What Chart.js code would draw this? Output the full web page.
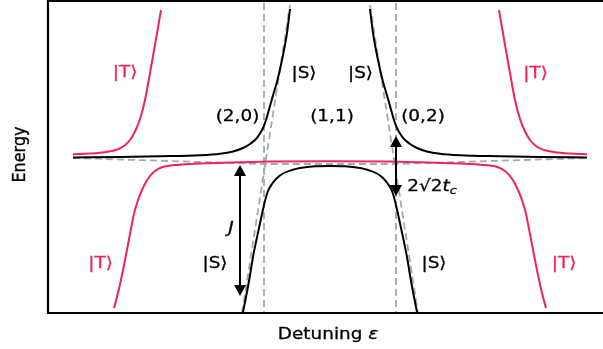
<!DOCTYPE html>
<html>
<head>
<meta charset="utf-8">
<script src="https://cdn.jsdelivr.net/npm/chart.js@4/dist/chart.umd.min.js"></script>
<style>
  html, body { margin: 0; padding: 0; background: #ffffff; }
  #wrap { width: 603px; height: 349px; }
</style>
</head>
<body>
<div id="wrap"><canvas id="c" width="603" height="349"></canvas></div>
<script>
// Energy levels of a double quantum dot versus detuning ε (arbitrary units)
const PINK = '#f0245a';
const GREY = '#9eabb5';
const BLACK = '#000000';

// Triplet branches
const tripletLeftEps  = [-2.57, -2.40, -2.25, -2.15, -2.10, -2.05, -2.00, -1.95, -1.90, -1.85, -1.80, -1.75, -1.69];
const tripletLeftE    = [0.097, 0.104, 0.117, 0.137, 0.156, 0.187, 0.24, 0.325, 0.45, 0.64, 0.91, 1.19, 1.54];
const tripletRightEps = [1.69, 1.75, 1.80, 1.85, 1.90, 1.95, 2.00, 2.05, 2.10, 2.15, 2.25, 2.40, 2.57];
const tripletRightE   = [1.54, 1.19, 0.91, 0.64, 0.45, 0.325, 0.24, 0.187, 0.156, 0.137, 0.117, 0.104, 0.097];
const tripletLowEps   = [-2.16, -2.12, -2.08, -2.04, -2.00, -1.96, -1.92, -1.88, -1.84, -1.80, -1.75, -1.68, -1.58, -1.45, -1.20, -0.90, -0.60, 0,
                          0.60, 0.90, 1.20, 1.45, 1.58, 1.68, 1.75, 1.80, 1.84, 1.88, 1.92, 1.96, 2.00, 2.04, 2.08, 2.12, 2.16];
const tripletLowE     = [-1.44, -1.29, -1.11, -0.91, -0.70, -0.50, -0.36, -0.26, -0.18, -0.12, -0.07, -0.032, -0.013, -0.003, 0.008, 0.017, 0.024, 0.027,
                          0.024, 0.017, 0.008, -0.003, -0.013, -0.032, -0.07, -0.12, -0.18, -0.26, -0.36, -0.50, -0.70, -0.91, -1.11, -1.29, -1.44];

// Singlet branches
const singletLeftEps  = [-2.57, -2.10, -1.70, -1.30, -1.10, -0.97, -0.87, -0.80, -0.74, -0.70, -0.67, -0.64, -0.60, -0.56, -0.53, -0.48, -0.43, -0.40];
const singletLeftE    = [0.065, 0.07, 0.077, 0.087, 0.102, 0.125, 0.16, 0.20, 0.25, 0.305, 0.36, 0.44, 0.58, 0.72, 0.82, 1.04, 1.31, 1.55];
const singletRightEps = [0.40, 0.43, 0.48, 0.53, 0.56, 0.60, 0.64, 0.67, 0.70, 0.74, 0.80, 0.87, 0.97, 1.10, 1.30, 1.70, 2.10, 2.57];
const singletRightE   = [1.55, 1.31, 1.04, 0.82, 0.72, 0.58, 0.44, 0.36, 0.305, 0.25, 0.20, 0.16, 0.125, 0.102, 0.087, 0.077, 0.07, 0.065];
const singletLowEps   = [-0.87, -0.84, -0.81, -0.77, -0.74, -0.71, -0.68, -0.65, -0.62, -0.58, -0.53, -0.47, -0.38, -0.30, -0.15, 0,
                          0.15, 0.30, 0.38, 0.47, 0.53, 0.58, 0.62, 0.65, 0.68, 0.71, 0.74, 0.77, 0.81, 0.84, 0.87];
const singletLowE     = [-1.48, -1.33, -1.17, -0.93, -0.78, -0.64, -0.50, -0.37, -0.27, -0.20, -0.14, -0.095, -0.06, -0.04, -0.023, -0.02,
                          -0.023, -0.04, -0.06, -0.095, -0.14, -0.20, -0.27, -0.37, -0.50, -0.64, -0.78, -0.93, -1.17, -1.33, -1.48];

// Uncoupled (dashed) reference levels
const baseEps        = [-2.57, -0.66, 0.66, 2.57];
const baseE          = [0.06, 0, 0, 0.06];
const markLeftEps    = [-0.66, -0.66];
const markRightEps   = [0.66, 0.66];
const markE          = [1.61, -1.49];
const slopeLeftEps   = [-0.88, -0.40];
const slopeLeftE     = [-1.49, 1.59];
const slopeRightEps  = [0.40, 0.88];
const slopeRightE    = [1.59, -1.49];

// Double arrows: J and the anticrossing gap
const arrowEps    = [-0.90, 0.66];
const arrowTopE   = [-0.01, 0.28];
const arrowBotE   = [-1.32, -0.32];

// State labels
const labelText  = ['|T⟩', '|T⟩', '|S⟩', '|S⟩', '(2,0)', '(1,1)', '(0,2)', '|T⟩', '|S⟩', '|S⟩', '|T⟩'];
const labelEps   = [-2.05, 2.055, -0.26, 0.305, -0.925, 0.02, 0.93, -2.295, -1.15, 1.04, 2.34];
const labelE     = [0.91, 0.90, 0.90, 0.90, 0.47, 0.47, 0.47, -1.00, -1.00, -1.00, -1.00];
const labelColor = [PINK, PINK, BLACK, BLACK, BLACK, BLACK, BLACK, PINK, BLACK, BLACK, PINK];

const jLabel   = { eps: -0.99, E: -0.65 };
const gapLabel = { eps: 1.02, E: -0.23 };

const FONT = '"DejaVu Sans", "Liberation Sans", sans-serif';
const SX = 1.15;   // horizontal text stretch

function pts(xs, ys) { return xs.map((v, i) => ({ x: v, y: ys[i] })); }

function curve(data, color, order, dash) {
  return {
    data: data,
    showLine: true,
    borderColor: color,
    borderWidth: dash ? 1.8 : 2,
    borderDash: dash ? [7, 4] : [],
    pointRadius: 0,
    pointHoverRadius: 0,
    cubicInterpolationMode: dash ? 'default' : 'monotone',
    tension: 0,
    fill: false,
    order: order
  };
}

function stretchedText(ctx, parts, cx, cy, align) {
  // parts: [{t, font, dy}]
  let w = 0;
  parts.forEach(p => { ctx.font = p.font; w += ctx.measureText(p.t).width; });
  ctx.save();
  ctx.translate(cx, cy);
  ctx.scale(SX, 1);
  ctx.strokeStyle = ctx.fillStyle;
  ctx.lineWidth = 0.3;
  let x0 = align === 'left' ? 0 : -w / 2;
  parts.forEach(p => {
    ctx.font = p.font;
    ctx.fillText(p.t, x0, p.dy || 0);
    ctx.strokeText(p.t, x0, p.dy || 0);
    x0 += ctx.measureText(p.t).width;
  });
  ctx.restore();
}

const overlay = {
  id: 'overlay',
  afterDatasetsDraw(chart) {
    const { ctx, chartArea: a, scales } = chart;
    const xs = scales.x, ys = scales.y;

    ctx.save();
    // frame
    ctx.strokeStyle = '#000';
    ctx.lineWidth = 2.2;
    ctx.beginPath();
    ctx.moveTo(chart.width + 5, a.top);
    ctx.lineTo(a.left, a.top);
    ctx.lineTo(a.left, a.bottom);
    ctx.lineTo(chart.width + 5, a.bottom);
    ctx.stroke();

    // double arrows
    ctx.fillStyle = '#000';
    ctx.lineWidth = 2;
    const HL = 11, HW = 6;
    arrowEps.forEach((e, i) => {
      const px = xs.getPixelForValue(e);
      const top = ys.getPixelForValue(arrowTopE[i]);
      const bot = ys.getPixelForValue(arrowBotE[i]);
      ctx.beginPath();
      ctx.moveTo(px, top + HL - 1);
      ctx.lineTo(px, bot - HL + 1);
      ctx.stroke();
      ctx.beginPath();
      ctx.moveTo(px, top); ctx.lineTo(px - HW, top + HL); ctx.lineTo(px + HW, top + HL); ctx.closePath();
      ctx.fill();
      ctx.beginPath();
      ctx.moveTo(px, bot); ctx.lineTo(px - HW, bot - HL); ctx.lineTo(px + HW, bot - HL); ctx.closePath();
      ctx.fill();
    });

    // state labels
    ctx.textBaseline = 'middle';
    labelText.forEach((t, i) => {
      ctx.fillStyle = labelColor[i];
      stretchedText(ctx, [{ t: t, font: '16px ' + FONT }],
        xs.getPixelForValue(labelEps[i]), ys.getPixelForValue(labelE[i]), 'center');
    });
    ctx.fillStyle = '#000';
    stretchedText(ctx, [{ t: 'J', font: 'italic 16px ' + FONT }],
      xs.getPixelForValue(jLabel.eps), ys.getPixelForValue(jLabel.E), 'center');
    stretchedText(ctx, [
      { t: '2√2', font: '16px ' + FONT },
      { t: 't', font: 'italic 16px ' + FONT },
      { t: 'c', font: 'italic 11px ' + FONT, dy: 4 }
    ], xs.getPixelForValue(gapLabel.eps), ys.getPixelForValue(gapLabel.E), 'center');

    // axis titles
    ctx.textBaseline = 'alphabetic';
    stretchedText(ctx, [
      { t: 'Detuning ', font: '16px ' + FONT },
      { t: 'ε', font: 'italic 16px ' + FONT }
    ], 328, 338.5, 'center');

    ctx.save();
    ctx.translate(25, 154.5);
    ctx.scale(SX, 1);
    ctx.rotate(-Math.PI / 2);
    ctx.font = '16px ' + FONT;
    ctx.textAlign = 'center';
    ctx.strokeStyle = '#000';
    ctx.lineWidth = 0.3;
    ctx.fillText('Energy', 0, 0);
    ctx.strokeText('Energy', 0, 0);
    ctx.restore();

    ctx.restore();
  }
};

new Chart(document.getElementById('c'), {
  type: 'scatter',
  data: {
    datasets: [
      curve(pts(tripletLeftEps, tripletLeftE), PINK, 1),
      curve(pts(tripletRightEps, tripletRightE), PINK, 1),
      curve(pts(tripletLowEps, tripletLowE), PINK, 1),
      curve(pts(singletLeftEps, singletLeftE), BLACK, 2),
      curve(pts(singletRightEps, singletRightE), BLACK, 2),
      curve(pts(singletLowEps, singletLowE), BLACK, 2),
      curve(pts(baseEps, baseE), GREY, 3, true),
      curve(pts(markLeftEps, markE), GREY, 3, true),
      curve(pts(markRightEps, markE), GREY, 3, true),
      curve(pts(slopeLeftEps, slopeLeftE), GREY, 3, true),
      curve(pts(slopeRightEps, slopeRightE), GREY, 3, true)
    ]
  },
  options: {
    responsive: false,
    animation: false,
    devicePixelRatio: 1,
    layout: { padding: { left: 48, right: 0, top: 1, bottom: 36 } },
    plugins: { legend: { display: false }, tooltip: { enabled: false } },
    events: [],
    scales: {
      x: { type: 'linear', display: false, min: -2.82, max: 2.73 },
      y: { type: 'linear', display: false, min: -1.49, max: 1.63 }
    }
  },
  plugins: [overlay]
});
</script>
</body>
</html>
